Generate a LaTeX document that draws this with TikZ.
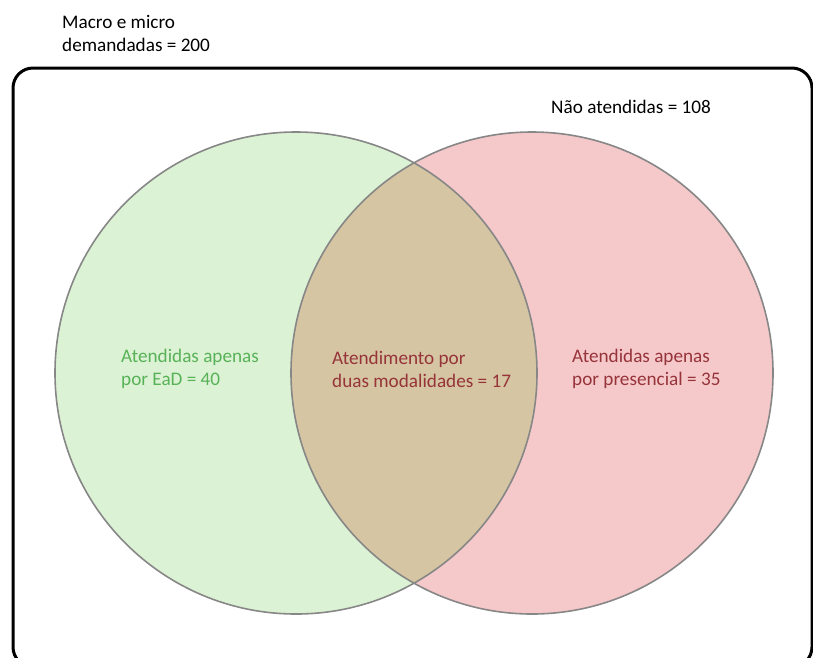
\documentclass[tikz,border=0pt]{standalone}
\usepackage{fontspec}
\setmainfont{Carlito}
\definecolor{eadfill}{RGB}{220,242,212}
\definecolor{presfill}{RGB}{245,200,202}
\definecolor{bothfill}{RGB}{213,197,162}
\definecolor{ringcol}{RGB}{135,135,135}
\definecolor{eadtext}{RGB}{88,178,88}
\definecolor{redtext}{RGB}{150,52,58}
\tikzset{
  lbl/.style={anchor=west, align=left, inner sep=0pt, font=\fontsize{19.2}{23}\selectfont},
  ring/.style={draw=ringcol, line width=1.6pt},
  frame/.style={draw=black, line width=3pt, rounded corners=20pt}
}
\begin{document}
\begin{tikzpicture}[x=1pt,y=-1pt]
\useasboundingbox (0,0) rectangle (813,657);
\begin{scope}
\clip (0,0) rectangle (813,657);
\draw[frame] (13,68) rectangle (812,667);
\end{scope}
% circles
\fill[eadfill] (296,373) circle (241);
\fill[presfill] (532,373) circle (241);
\begin{scope}
\clip (296,373) circle (241);
\fill[bothfill] (532,373) circle (241);
\end{scope}
\coordinate (cl) at (296,373);
\coordinate (cr) at (532,373);
\draw[ring] (cl) circle (241);
\draw[ring] (cr) circle (241);
% labels
\node[lbl] (total) at (62,33) {Macro e micro\\demandadas = 200};
\node[lbl] (nao) at (551,107) {Não atendidas = 108};
\node[lbl, text=eadtext] (ead) at (121,369) {Atendidas apenas\\por EaD = 40};
\node[lbl, text=redtext] (duas) at (332,369) {Atendimento por\\duas modalidades = 17};
\node[lbl, text=redtext] (pres) at (572,369) {Atendidas apenas\\por presencial = 35};
\end{tikzpicture}
\end{document}
